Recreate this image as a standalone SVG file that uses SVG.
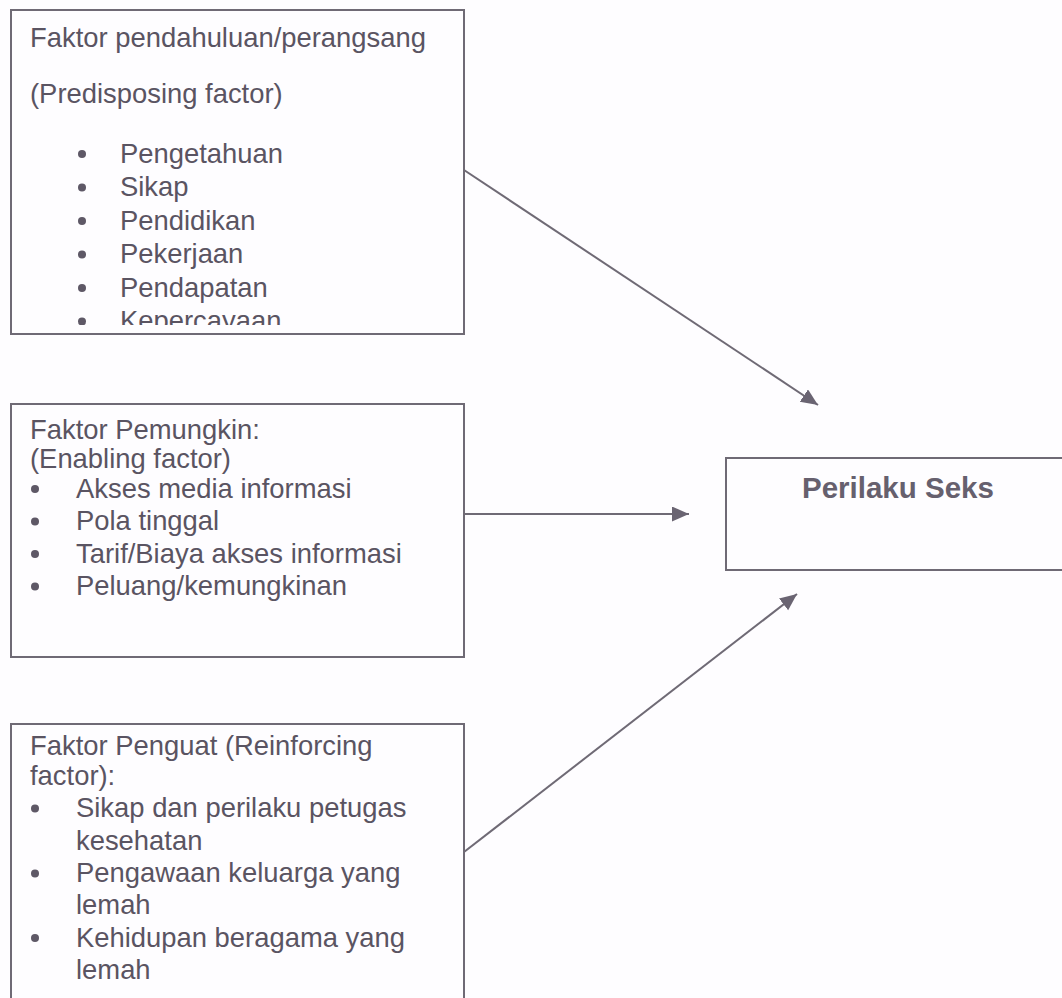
<svg xmlns="http://www.w3.org/2000/svg" width="1062" height="998" viewBox="0 0 1062 998">
<style>
.box{fill:none;stroke:#6f6a75;stroke-width:2}
.t{font-family:"Liberation Sans",Arial,sans-serif;font-size:27.4px;fill:#5a5462}
.b{font-family:"Liberation Sans",Arial,sans-serif;font-size:29.5px;font-weight:bold;fill:#66606e}
.dot{fill:#5e5866}
.conn{stroke:#6f6a75;stroke-width:2;fill:none}
</style>
<defs>
<marker id="ah" markerUnits="userSpaceOnUse" markerWidth="19" markerHeight="16" refX="17" refY="7.5" orient="auto">
<path d="M0,0 L17,7.5 L0,15 z" fill="#6a6472"/>
</marker>
<clipPath id="c1"><rect x="11" y="10" width="453" height="315"/></clipPath>
</defs>
<rect width="1062" height="998" fill="#fefdff"/>
<g id="predisposing">
<rect class="box" x="11" y="10" width="453" height="324"/>
<g clip-path="url(#c1)">
<text class="t" x="30" y="47">Faktor pendahuluan/perangsang</text>
<text class="t" x="30" y="103">(Predisposing factor)</text>
<circle class="dot" cx="82" cy="154" r="4"/><text class="t" x="120" y="162.5">Pengetahuan</text>
<circle class="dot" cx="82" cy="187.5" r="4"/><text class="t" x="120" y="196">Sikap</text>
<circle class="dot" cx="82" cy="221" r="4"/><text class="t" x="120" y="229.5">Pendidikan</text>
<circle class="dot" cx="82" cy="254.5" r="4"/><text class="t" x="120" y="263">Pekerjaan</text>
<circle class="dot" cx="82" cy="288" r="4"/><text class="t" x="120" y="296.5">Pendapatan</text>
<circle class="dot" cx="82" cy="321.5" r="4"/><text class="t" x="120" y="330">Kepercayaan</text>
</g>
</g>
<g id="enabling">
<rect class="box" x="11" y="404" width="453" height="253"/>
<text class="t" x="30" y="439">Faktor Pemungkin:</text>
<text class="t" x="30" y="468">(Enabling factor)</text>
<circle class="dot" cx="35" cy="489" r="4"/><text class="t" x="76" y="497.5">Akses media informasi</text>
<circle class="dot" cx="35" cy="521.5" r="4"/><text class="t" x="76" y="530">Pola tinggal</text>
<circle class="dot" cx="35" cy="554" r="4"/><text class="t" x="76" y="562.5">Tarif/Biaya akses informasi</text>
<circle class="dot" cx="35" cy="586.5" r="4"/><text class="t" x="76" y="595">Peluang/kemungkinan</text>
</g>
<g id="reinforcing">
<rect class="box" x="11" y="724" width="453" height="300"/>
<text class="t" x="30" y="755">Faktor Penguat (Reinforcing</text>
<text class="t" x="30" y="784.5">factor):</text>
<circle class="dot" cx="35" cy="808.5" r="4"/><text class="t" x="76" y="817">Sikap dan perilaku petugas</text>
<text class="t" x="76" y="849.5">kesehatan</text>
<circle class="dot" cx="35" cy="873.5" r="4"/><text class="t" x="76" y="882">Pengawaan keluarga yang</text>
<text class="t" x="76" y="914">lemah</text>
<circle class="dot" cx="35" cy="938" r="4"/><text class="t" x="76" y="946.5">Kehidupan beragama yang</text>
<text class="t" x="76" y="979">lemah</text>
</g>
<g id="perilaku">
<rect class="box" x="726" y="458" width="350" height="112"/>
<text class="b" x="802" y="497.5">Perilaku Seks</text>
</g>
<g id="connectors">
<line class="conn" x1="464" y1="170" x2="818" y2="405" marker-end="url(#ah)"/>
<line class="conn" x1="464" y1="514" x2="689" y2="514" marker-end="url(#ah)"/>
<line class="conn" x1="464" y1="852" x2="797" y2="594" marker-end="url(#ah)"/>
</g>
</svg>
